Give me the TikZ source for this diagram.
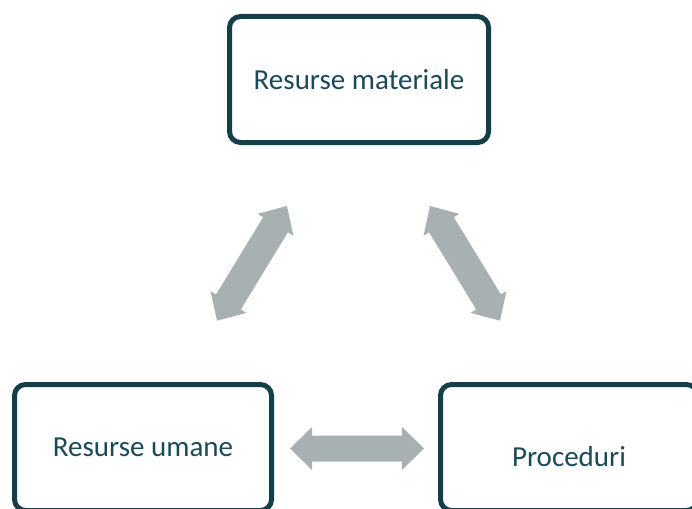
\documentclass[tikz,border=0pt]{standalone}
\usepackage{fontspec}
\setmainfont{Carlito}
\usetikzlibrary{calc}
\definecolor{boxline}{RGB}{19,63,75}
\definecolor{boxtext}{RGB}{26,74,88}
\definecolor{arrowgray}{RGB}{168,177,178}
\tikzset{
  box/.style={draw=boxline, line width=5pt, rounded corners=11pt, fill=white,
              minimum width=257pt, minimum height=126pt, inner sep=0pt},
  lbl/.style={text=boxtext, font=\fontsize{29}{34}\selectfont, inner sep=0pt}
}
% double-headed block arrow between two named coordinates
\newcommand{\blockarrow}[5]{% #1,#2 tips, #3 head length, #4 half head width, #5 half shaft width
  \fill[arrowgray] (#1)
    -- ($(#1)!#3!(#2)!#4!90:(#2)$)
    -- ($(#1)!#3!(#2)!#5!90:(#2)$)
    -- ($(#2)!#3!(#1)!#5!-90:(#1)$)
    -- ($(#2)!#3!(#1)!#4!-90:(#1)$)
    -- (#2)
    -- ($(#2)!#3!(#1)!#4!90:(#1)$)
    -- ($(#2)!#3!(#1)!#5!90:(#1)$)
    -- ($(#1)!#3!(#2)!#5!-90:(#2)$)
    -- ($(#1)!#3!(#2)!#4!-90:(#2)$)
    -- cycle;}
\begin{document}
\begin{tikzpicture}[x=1pt,y=-1pt]
\useasboundingbox (0,0) rectangle (692,508);
\clip (0,0) rectangle (692,508);
\node[box, minimum width=259pt] (mat) at (359,79.5) {};
\node[lbl] (matt) at (mat.center) {Resurse materiale};
\node[box] (uman) at (143,447.5) {};
\node[lbl] (umant) at (uman.center) {Resurse umane};
\node[box] (proc) at (569,447.5) {};
\node[lbl] (proct) at ($(proc.center)+(0,9)$) {Proceduri};
% arrow tips
\coordinate (a1) at (217,320.7);
\coordinate (a2) at (287,206);
\coordinate (b1) at (430,206);
\coordinate (b2) at (500,320.7);
\coordinate (c1) at (290,448.5);
\coordinate (c2) at (424,448.5);
\blockarrow{a1}{a2}{22pt}{21pt}{14.5pt}
\blockarrow{b1}{b2}{22pt}{21pt}{14.5pt}
\blockarrow{c1}{c2}{22pt}{21.5pt}{13pt}
\end{tikzpicture}
\end{document}
